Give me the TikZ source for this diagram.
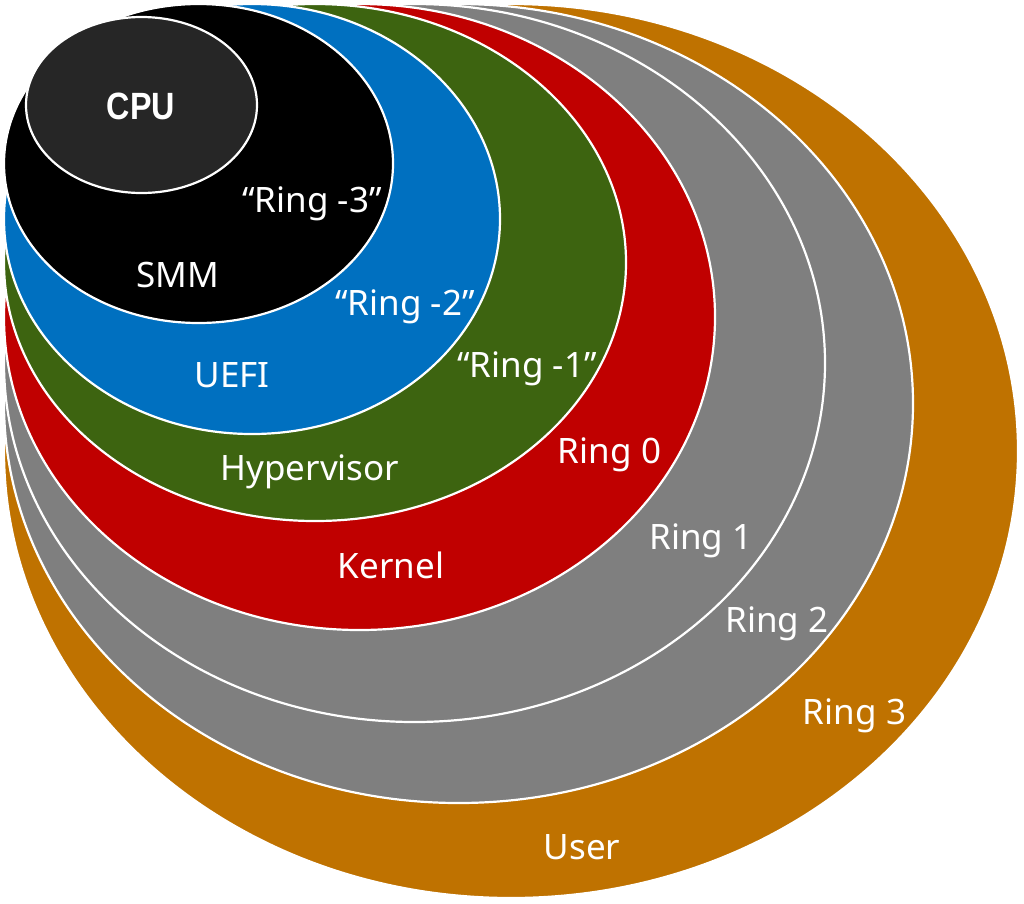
\documentclass[tikz,border=0pt]{standalone}
\usepackage{fontspec}
\setmainfont{Noto Sans}
\newfontfamily\cpufont{Liberation Sans}
\definecolor{cuser}{HTML}{BF7200}
\definecolor{cgray}{HTML}{7F7F7F}
\definecolor{ckern}{HTML}{C00000}
\definecolor{chyp}{HTML}{3D6410}
\definecolor{cuefi}{HTML}{0070C0}
\definecolor{csmm}{HTML}{000000}
\definecolor{ccpu}{HTML}{262626}
\begin{document}
\begin{tikzpicture}[x=1pt,y=-1pt,
  ring/.style={draw=white, line width=2.2pt},
  lbl/.style={text=white, font=\fontsize{35}{40}\selectfont, inner sep=0pt, anchor=base}]
\useasboundingbox (0,0) rectangle (1024,903);
% rings, outermost first
\filldraw[ring, fill=cuser] (511,451) ellipse [x radius=507, y radius=447];
\filldraw[ring, fill=cgray] (458.5,403.5) ellipse [x radius=454.5, y radius=399.5];
\filldraw[ring, fill=cgray] (414.5,363) ellipse [x radius=410.5, y radius=359];
\filldraw[ring, fill=ckern] (359.5,317) ellipse [x radius=355.5, y radius=313];
\filldraw[ring, fill=chyp] (315,262.5) ellipse [x radius=311, y radius=258.5];
\filldraw[ring, fill=cuefi] (252,219) ellipse [x radius=248, y radius=215];
\filldraw[ring, fill=csmm] (198.5,163.5) ellipse [x radius=194.5, y radius=159.5];
\filldraw[ring, fill=ccpu] (141.5,105) ellipse [x radius=115.5, y radius=88];
% labels
\node[lbl, font=\cpufont\bfseries\fontsize{38}{42}\selectfont] (cpu) at (141,119) {\scalebox{0.85}[1]{CPU}};
\node[lbl] (r3n) at (312,212) {“Ring -3”};
\node[lbl] (smm) at (177.5,287) {SMM};
\node[lbl] (r2n) at (405,315) {“Ring -2”};
\node[lbl] (uefi) at (232,387) {UEFI};
\node[lbl] (r1n) at (527,377) {“Ring -1”};
\node[lbl] (hyp) at (310,480) {Hypervisor};
\node[lbl] (r0) at (609.5,463) {Ring 0};
\node[lbl] (kern) at (391,578) {Kernel};
\node[lbl] (r1) at (701,549) {Ring 1};
\node[lbl] (r2) at (777,632) {Ring 2};
\node[lbl] (r3) at (854.5,724) {Ring 3};
\node[lbl] (user) at (582,859) {User};
\end{tikzpicture}
\end{document}
